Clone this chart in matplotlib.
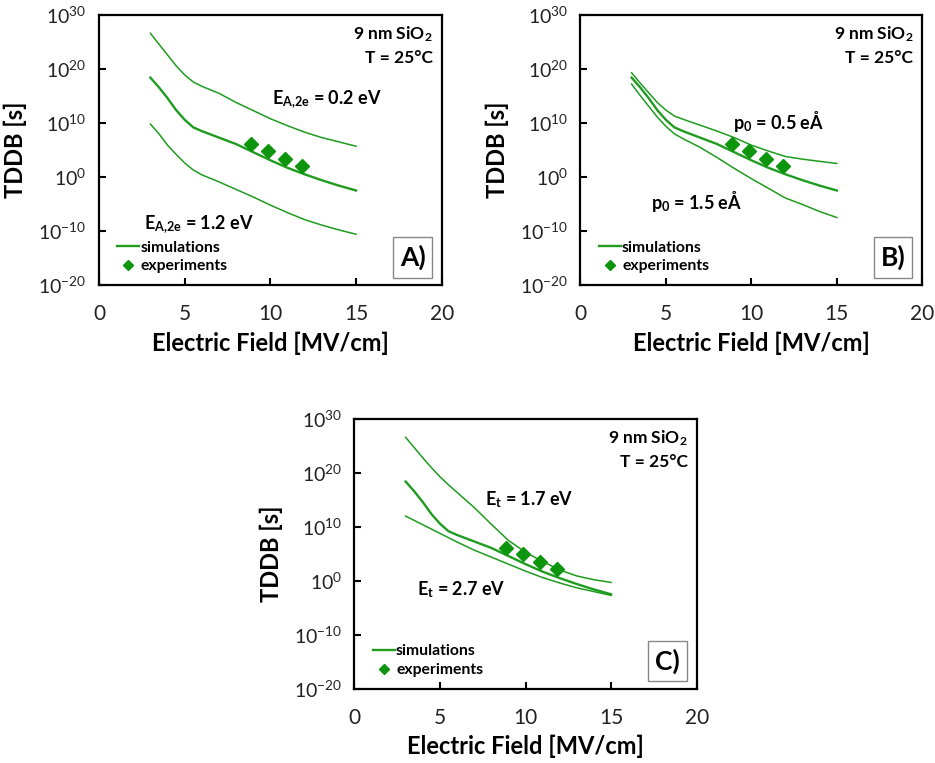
import numpy as np
import matplotlib
matplotlib.use("Agg")
import matplotlib.pyplot as plt
from matplotlib.patches import Rectangle
from matplotlib.lines import Line2D

plt.rcParams['font.family'] = ['Lato', 'DejaVu Sans']
plt.rcParams['mathtext.fontset'] = 'custom'
plt.rcParams['mathtext.rm'] = 'Lato'
plt.rcParams['mathtext.bf'] = 'Lato:bold'
plt.rcParams['mathtext.it'] = 'Lato:italic'
plt.rcParams['axes.unicode_minus'] = False

# ---------------- data (TDDB given as log10 of seconds) ----------------
field_sim = [3, 3.5, 4, 4.5, 5, 5.5, 6, 7, 8, 9, 10, 11, 12, 13, 14, 15]
ref_log = [18.4, 16.6, 14.6, 12.4, 10.6, 9.2, 8.5, 7.3, 6.1, 4.6, 3.1, 1.7, 0.5, -0.6, -1.6, -2.5]

a_low_ea_log = [26.6, 24.6, 22.6, 20.6, 18.9, 17.6, 16.8, 15.5, 13.8, 12.3, 10.8, 9.5, 8.3, 7.3, 6.5, 5.7]
a_high_ea_log = [9.8, 8.0, 5.9, 4.2, 2.6, 1.3, 0.4, -0.9, -2.3, -3.7, -5.2, -6.6, -7.9, -8.9, -9.8, -10.6]

b_low_p0_log = [19.3, 17.4, 15.6, 13.8, 12.4, 11.3, 10.7, 9.6, 8.5, 7.3, 5.9, 4.8, 3.8, 3.3, 2.9, 2.5]
b_high_p0_log = [17.2, 15.1, 13.1, 11.1, 9.4, 8.0, 7.1, 5.5, 3.6, 1.6, -0.3, -2.1, -3.9, -5.1, -6.4, -7.5]

c_low_et_log = [26.6, 24.7, 22.8, 21.0, 19.3, 17.8, 16.4, 13.6, 10.5, 7.5, 5.3, 3.6, 2.0, 0.9, 0.2, -0.3]
c_high_et_log = [12.0, 11.2, 10.4, 9.6, 8.8, 8.0, 7.2, 5.7, 4.4, 3.1, 1.8, 0.6, -0.4, -1.3, -2.0, -2.7]

field_exp = [8.85, 9.85, 10.85, 11.85]
exp_log = [6.1, 4.9, 3.4, 2.1]

x_ticks = [0, 5, 10, 15, 20]
y_ticks_exp = [-20, -10, 0, 10, 20, 30]

panels = [
    dict(tag="A)", others=[a_low_ea_log, a_high_ea_log],
         labels=[(r"E$_{\mathbf{A{,}2e}}$ = 0.2 eV", 10.1, 14.3),
                 (r"E$_{\mathbf{A{,}2e}}$ = 1.2 eV", 2.6, -8.9)]),
    dict(tag="B)", others=[b_low_p0_log, b_high_p0_log],
         labels=[(r"p$_{\mathbf{0}}$ = 0.5 eÅ", 8.95, 10.25),
                 (r"p$_{\mathbf{0}}$ = 1.5 eÅ", 4.13, -4.6)]),
    dict(tag="C)", others=[c_low_et_log, c_high_et_log],
         labels=[(r"E$_{\mathbf{t}}$ = 1.7 eV", 7.63, 15.0),
                 (r"E$_{\mathbf{t}}$ = 2.7 eV", 3.64, -1.7)]),
]

W, H = 935, 763
fig = plt.figure(figsize=(W / 100, H / 100), dpi=100)
boxes = [(99, 15, 441.7, 285), (580.3, 15, 922.3, 285), (354.3, 419, 696.7, 688.7)]

line_col = '#1f9c1f'
mark_col = '#0d960d'

def to_s(lg):
    return 10.0 ** np.asarray(lg, dtype=float)

for p, (x0, y0, x1, y1) in zip(panels, boxes):
    ax = fig.add_axes([x0 / W, 1 - y1 / H, (x1 - x0) / W, (y1 - y0) / H])
    ax.set_yscale('log')
    for lg in p['others']:
        ax.plot(field_sim, to_s(lg), color=line_col, lw=1.1)
    ax.plot(field_sim, to_s(ref_log), color=line_col, lw=1.7)
    ax.plot(field_exp, to_s(exp_log), linestyle='none', marker='D', ms=7,
            color=mark_col, mec=mark_col)
    ax.set_xlim(0, 20)
    ax.set_ylim(1e-20, 1e30)
    ax.set_xticks(x_ticks)
    ax.set_yticks([10.0 ** e for e in y_ticks_exp])
    ax.yaxis.set_minor_locator(matplotlib.ticker.NullLocator())
    ax.tick_params(direction='in', length=5, width=1.5, colors='black')
    ax.tick_params(axis='x', pad=14, labelsize=15)
    ax.tick_params(axis='y', pad=9, labelsize=14)
    for tl in ax.get_xticklabels() + ax.get_yticklabels():
        tl.set_color('#222222')
    for sp in ax.spines.values():
        sp.set_linewidth(1.6)
        sp.set_color('black')
    ax.set_xlabel("Electric Field [MV/cm]", fontsize=17, fontweight='bold', labelpad=5)
    ax.set_ylabel("TDDB [s]", fontsize=17, fontweight='bold', labelpad=8)

    for txt, lx, ly in p['labels']:
        ax.text(lx, 10.0 ** ly, txt, fontsize=13, fontweight='bold', ha='left', va='center')

    ax.text(0.973, 0.93, r"9 nm SiO$_{\mathbf{2}}$", transform=ax.transAxes, ha='right',
            va='center', fontsize=12.5, fontweight='bold')
    ax.text(0.973, 0.84, "T = 25°C", transform=ax.transAxes, ha='right',
            va='center', fontsize=12.5, fontweight='bold')

    handles = [Line2D([], [], color=line_col, lw=1.7),
               Line2D([], [], linestyle='none', marker='D', ms=5, color=mark_col)]
    ax.legend(handles, ["simulations", "experiments"], loc='lower left',
              bbox_to_anchor=(0.035, 0.02), frameon=False, handlelength=1.4,
              handletextpad=0.1, borderaxespad=0, labelspacing=0.3,
              prop={'weight': 'bold', 'size': 11.3})

    ax.add_patch(Rectangle((0.859, 0.027), 0.112, 0.15, transform=ax.transAxes,
                           fill=False, edgecolor='#888888', lw=1.0))
    ax.text(0.915, 0.102, p['tag'], transform=ax.transAxes, ha='center', va='center',
            fontsize=19, fontweight='bold')

fig.savefig("out.png", dpi=100)
